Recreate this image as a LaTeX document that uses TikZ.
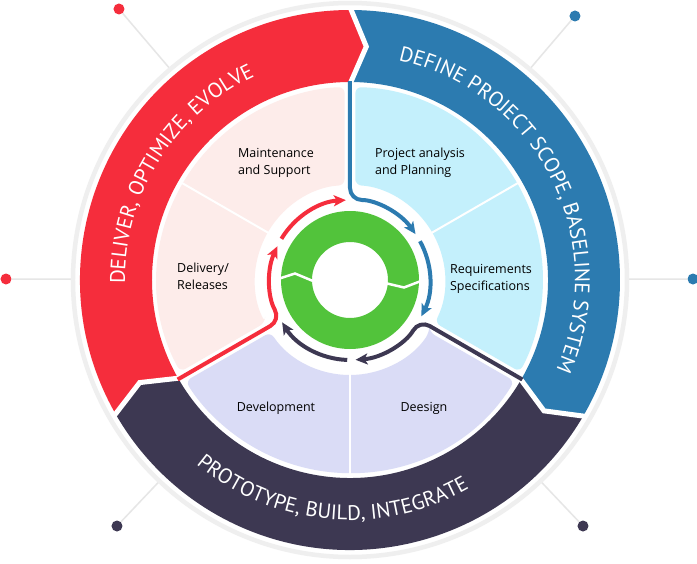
\documentclass[tikz,border=0pt]{standalone}
\usepackage{fontspec}
\setmainfont{Open Sans}
\newfontfamily\bandfont{PT Sans}
\usetikzlibrary{decorations.text,arrows.meta,calc}
\definecolor{cred}{HTML}{F52D3C}
\definecolor{cblue}{HTML}{2C7BB0}
\definecolor{cnavy}{HTML}{3D3852}
\definecolor{cgreen}{HTML}{52C33B}
\definecolor{lred}{HTML}{FDECEA}
\definecolor{lblue}{HTML}{C4F0FC}
\definecolor{lnavy}{HTML}{DADCF6}
\definecolor{ringgray}{HTML}{EFEFEF}
\definecolor{linegray}{HTML}{E6E6E6}
\tikzset{
  lbl/.style={align=left, text=black, inner sep=0pt, font=\fontsize{12.5}{17}\selectfont},
  dotnode/.style={circle, inner sep=0pt, minimum size=11pt},
  arrowline/.style={line width=4pt, -{Stealth[length=12pt,width=11pt,inset=3pt]}},
  sepline/.style={white, line width=5pt, line join=miter},
  thinsep/.style={white, line width=2pt},
  bandtext/.style={decorate, decoration={text along path, text align=center}}
}
\newcommand\bandshape[3]{%
  \fill[#1] (#2:270) arc[start angle=#2, end angle=#3, radius=270] -- ({#3-4}:234) -- (#3:198)
    arc[start angle=#3, end angle=#2, radius=198] -- ({#2-4}:234) -- cycle;}
\newcommand\sectshape[3]{%
  \fill[#1, rounded corners=6pt] ({#2-3.3}:95) -- ({#2-1.6}:193)
    arc[start angle={#2-1.6}, end angle={#3+1.6}, radius=193] -- ({#3+3.3}:95)
    arc[start angle={#3+3.3}, end angle={#2-3.3}, radius=95] -- cycle;}
\begin{document}
\begin{tikzpicture}[x=1pt,y=1pt]
\useasboundingbox (-350,-283) rectangle (347,280);
\fill[white] (-350,-283) rectangle (347,280);
\coordinate (O) at (0,0);
% dots
\node[dotnode, fill=cred] (d1) at (-231,271) {};
\node[dotnode, fill=cred] (d2) at (-344,1) {};
\node[dotnode, fill=cblue] (d3) at (225,264) {};
\node[dotnode, fill=cblue] (d4) at (343,1) {};
\node[dotnode, fill=cnavy] (d5) at (-233,-246) {};
\node[dotnode, fill=cnavy] (d6) at (233,-246) {};
\foreach \d in {d1,d2,d3,d4,d5,d6}{
  \draw[linegray, line width=1.5pt] (\d) -- ($(O)!277pt!(\d)$);
}
% outer grey ring
\draw[ringgray, line width=4.5pt] (O) circle[radius=277];
% bands
\bandshape{cred}{210}{90}
\bandshape{cblue}{90}{-30}
\bandshape{cnavy}{330}{210}
\foreach \a in {90,210,330}{
  \draw[sepline] (\a:273) -- ({\a-4}:234) -- (\a:196);
}
% light sectors
\sectshape{lred}{210}{90}
\sectshape{lblue}{90}{-30}
\sectshape{lnavy}{330}{210}
\foreach \a in {150,30,270}{
  \draw[thinsep] (\a:93) -- (\a:195);
}
% arrows
\draw[arrowline, cred, rounded corners=12pt] (210:199) -- (210:80) arc[start angle=210, end angle=155, radius=80];
\draw[arrowline, cred] (149:80) arc[start angle=149, end angle=93, radius=80];
\draw[arrowline, cblue, rounded corners=12pt] (90:199) -- (90:80) arc[start angle=90, end angle=35, radius=80];
\draw[arrowline, cblue] (29:80) arc[start angle=29, end angle=-27, radius=80];
\draw[arrowline, cnavy, rounded corners=12pt] (-30:199) -- (-30:80) arc[start angle=-30, end angle=-86, radius=80];
\draw[arrowline, cnavy] (-92:80) arc[start angle=-92, end angle=-148, radius=80];
% green ring
\fill[cgreen, even odd rule] (O) circle[radius=69] (O) circle[radius=38];
\draw[white, line width=2.5pt] (-72,1) -- (-55,6.5) -- (-37,-1);
\draw[white, line width=2.5pt] (35,-3) -- (54,-7.5) -- (71,-1);
% sector labels
\node[lbl] (maint) at (-74,117) {Maintenance\\and Support};
\node[lbl] (proj) at (70,117) {Project analysis\\and Planning};
\node[lbl] (deliv) at (-147,4) {Delivery/\\Releases};
\node[lbl] (req) at (141,1) {Requirements\\Specifications};
\node[lbl] (dev) at (-74,-128) {Development};
\node[lbl] (des) at (74,-128) {Deesign};
% band texts
\path[bandtext, decoration={text={|\bandfont\fontsize{21}{21}\selectfont\color{white}|DELIVER, OPTIMIZE, EVOLVE}}]
  (200:225) arc[start angle=200, end angle=96, radius=225];
\path[bandtext, decoration={text={|\bandfont\fontsize{21}{21}\selectfont\color{white}|DEFINE PROJECT SCOPE, BASELINE SYSTEM}}]
  (85:225) arc[start angle=85, end angle=-31, radius=225];
\path[bandtext, decoration={text={|\bandfont\fontsize{21}{21}\selectfont\color{white}|PROTOTYPE, BUILD, INTEGRATE}}]
  (215:240) arc[start angle=215, end angle=315, radius=240];
\end{tikzpicture}
\end{document}
